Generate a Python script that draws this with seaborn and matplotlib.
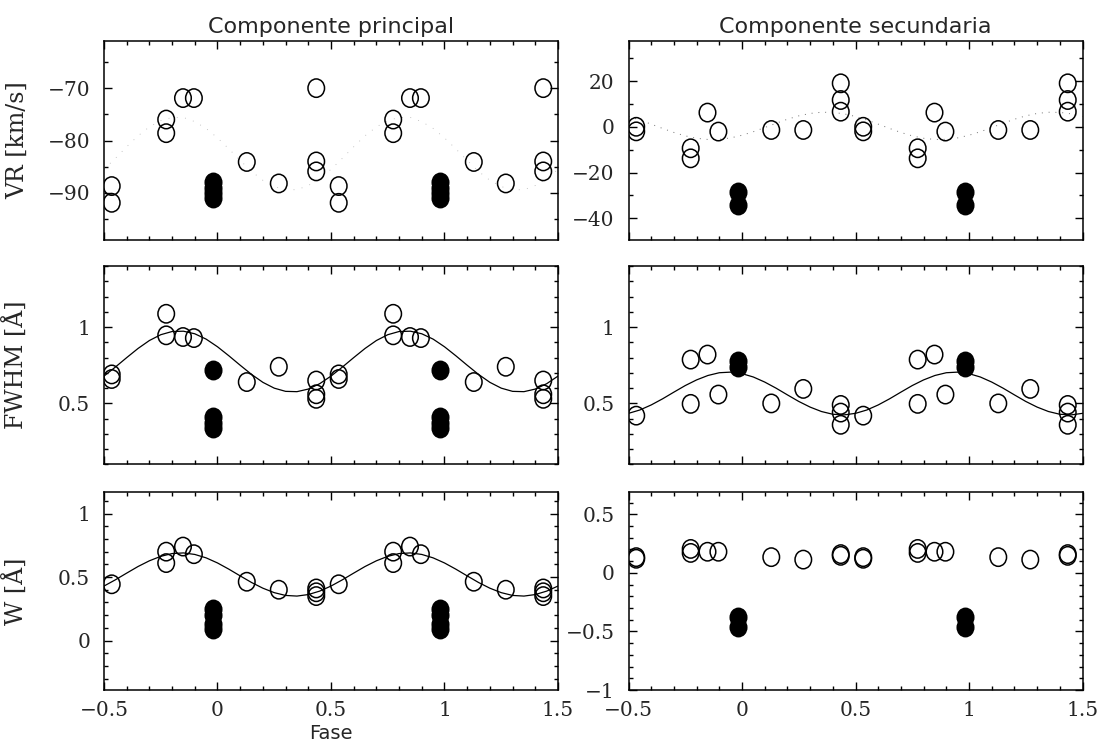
import numpy as np
import matplotlib
matplotlib.use("Agg")
import matplotlib.pyplot as plt
import seaborn as sns
from matplotlib.path import Path
from matplotlib.transforms import Affine2D
from matplotlib.ticker import MultipleLocator, FuncFormatter

# ---------------- data (phases in [0,1); plotted folded over -0.5..1.5) ----------------
# Componente principal
VR1_OPEN_PHASE = [0.129, 0.270, 0.435, 0.435, 0.435, 0.534, 0.534, 0.774, 0.774, 0.848, 0.896]
VR1_OPEN = [-84.1, -88.2, -70.0, -84.0, -85.9, -88.7, -91.9, -76.0, -78.6, -71.9, -71.9]
VR1_FILL_PHASE = [0.980, 0.980, 0.980, 0.980]
VR1_FILL = [-88.0, -89.0, -90.0, -91.0]

FW1_OPEN_PHASE = [0.129, 0.270, 0.435, 0.435, 0.435, 0.534, 0.534, 0.774, 0.774, 0.848, 0.896]
FW1_OPEN = [0.64, 0.74, 0.65, 0.56, 0.53, 0.69, 0.66, 1.087, 0.946, 0.935, 0.928]
FW1_FILL_PHASE = [0.980, 0.980, 0.980, 0.980]
FW1_FILL = [0.717, 0.41, 0.37, 0.34]

W1_OPEN_PHASE = [0.129, 0.270, 0.435, 0.435, 0.435, 0.534, 0.774, 0.774, 0.848, 0.896]
W1_OPEN = [0.463, 0.40, 0.41, 0.38, 0.35, 0.443, 0.70, 0.61, 0.74, 0.68]
W1_FILL_PHASE = [0.980, 0.980, 0.980, 0.980]
W1_FILL = [0.25, 0.20, 0.13, 0.09]

# Componente secundaria
VR2_OPEN_PHASE = [0.129, 0.270, 0.435, 0.435, 0.435, 0.534, 0.534, 0.774, 0.774, 0.848, 0.896]
VR2_OPEN = [-1.4, -1.4, 19.0, 11.7, 6.6, 0.0, -2.0, -9.4, -13.8, 6.2, -2.1]
VR2_FILL_PHASE = [0.984, 0.984]
VR2_FILL = [-28.4, -34.2]

FW2_OPEN_PHASE = [0.129, 0.270, 0.435, 0.435, 0.435, 0.534, 0.774, 0.774, 0.848, 0.896]
FW2_OPEN = [0.50, 0.595, 0.49, 0.44, 0.36, 0.42, 0.787, 0.497, 0.82, 0.558]
FW2_FILL_PHASE = [0.984, 0.984]
FW2_FILL = [0.78, 0.74]

W2_OPEN_PHASE = [0.129, 0.270, 0.435, 0.435, 0.534, 0.534, 0.774, 0.774, 0.848, 0.896]
W2_OPEN = [0.134, 0.113, 0.16, 0.145, 0.134, 0.12, 0.204, 0.17, 0.18, 0.18]
W2_FILL_PHASE = [0.984, 0.984]
W2_FILL = [-0.38, -0.46]

# fitted curves, read over one cycle at phases -0.5, -0.45, ..., 0.5
FIT_PHASE = [-0.50, -0.45, -0.40, -0.35, -0.30, -0.25, -0.20, -0.15, -0.10, -0.05, 0.00,
             0.05, 0.10, 0.15, 0.20, 0.25, 0.30, 0.35, 0.40, 0.45, 0.50]
VR1_FIT = [-85.5, -83.4, -81.2, -79.1, -77.4, -76.2, -75.6, -75.6, -76.4, -77.7, -79.5,
           -81.6, -83.8, -85.9, -87.6, -88.8, -89.4, -89.4, -88.6, -87.3, -85.5]
FW1_FIT = [0.679, 0.738, 0.800, 0.860, 0.912, 0.950, 0.971, 0.973, 0.956, 0.921, 0.871,
           0.812, 0.750, 0.690, 0.638, 0.600, 0.579, 0.577, 0.594, 0.629, 0.679]
W1_FIT = [0.429, 0.478, 0.531, 0.583, 0.628, 0.663, 0.685, 0.690, 0.678, 0.651, 0.611,
          0.562, 0.509, 0.457, 0.412, 0.377, 0.355, 0.350, 0.362, 0.389, 0.429]
VR2_FIT = [4.51, 2.96, 1.15, -0.72, -2.49, -3.97, -5.03, -5.55, -5.49, -4.86, -3.71,
           -2.16, -0.35, 1.52, 3.29, 4.77, 5.83, 6.35, 6.29, 5.66, 4.51]
FW2_FIT = [0.435, 0.457, 0.490, 0.530, 0.574, 0.617, 0.654, 0.683, 0.701, 0.705, 0.695,
           0.673, 0.640, 0.600, 0.556, 0.513, 0.476, 0.447, 0.429, 0.425, 0.435]

TITLES = ["Componente principal", "Componente secundaria"]
YLABELS = ["VR [km/s]", "FWHM [Å]", "W [Å]"]
XLABEL = "Fase"

# ---------------- helpers ----------------
def fold(phases, values):
    ph = np.asarray(phases, float)
    v = np.asarray(values, float)
    xs, ys = [], []
    for off in (-1, 0, 1):
        m = (ph + off >= -0.5) & (ph + off <= 1.5)
        xs.append(ph[m] + off)
        ys.append(v[m])
    return np.concatenate(xs), np.concatenate(ys)


def two_cycles(vals):
    p = np.asarray(FIT_PHASE, float)
    v = np.asarray(vals, float)
    return np.concatenate([p, p[1:] + 1]), np.concatenate([v, v[1:]])


ELLIPSE = Path.unit_circle().transformed(Affine2D().scale(0.9, 1.0))

sns.set_style("ticks")
plt.rcParams.update({
    "font.family": ["DejaVu Serif", "DejaVu Sans"],
    "xtick.direction": "in", "ytick.direction": "in",
    "xtick.top": True, "ytick.right": True,
    "axes.linewidth": 1.1,
})

fig = plt.figure(figsize=(11.01, 7.44), dpi=100)
W, H = 1101.0, 744.0
col_left = [104, 628.5]
col_w = 454
rows = [(41, 240), (266, 464.5), (492, 690)]

panels = {
    (0, 0): dict(open=(VR1_OPEN_PHASE, VR1_OPEN), fill=(VR1_FILL_PHASE, VR1_FILL),
                 fit=VR1_FIT, dotted="faint", ylim=(-99, -61), major=10, minor=5),
    (1, 0): dict(open=(FW1_OPEN_PHASE, FW1_OPEN), fill=(FW1_FILL_PHASE, FW1_FILL),
                 fit=FW1_FIT, dotted=None, ylim=(0.1, 1.4), major=0.5, minor=0.1),
    (2, 0): dict(open=(W1_OPEN_PHASE, W1_OPEN), fill=(W1_FILL_PHASE, W1_FILL),
                 fit=W1_FIT, dotted=None, ylim=(-0.39, 1.17), major=0.5, minor=0.1),
    (0, 1): dict(open=(VR2_OPEN_PHASE, VR2_OPEN), fill=(VR2_FILL_PHASE, VR2_FILL),
                 fit=VR2_FIT, dotted="light", ylim=(-49.5, 37.5), major=20, minor=10),
    (1, 1): dict(open=(FW2_OPEN_PHASE, FW2_OPEN), fill=(FW2_FILL_PHASE, FW2_FILL),
                 fit=FW2_FIT, dotted=None, ylim=(0.1, 1.4), major=0.5, minor=0.1),
    (2, 1): dict(open=(W2_OPEN_PHASE, W2_OPEN), fill=(W2_FILL_PHASE, W2_FILL),
                 fit=None, dotted=None, ylim=(-1.0, 0.69), major=0.5, minor=0.1),
}

fmt = FuncFormatter(lambda v, pos: ("%g" % round(v, 6)).replace("-", "\u2212"))

for (r, c), p in panels.items():
    top, bot = rows[r]
    ax = fig.add_axes([col_left[c] / W, 1 - bot / H, col_w / W, (bot - top) / H])

    if p["fit"] is not None:
        fx, fy = two_cycles(p["fit"])
        if p["dotted"] == "faint":
            sns.lineplot(x=fx, y=fy, ax=ax, color="0.7", linewidth=0.6,
                         linestyle=(0, (1, 9)), estimator=None, sort=False)
        elif p["dotted"] == "light":
            sns.lineplot(x=fx, y=fy, ax=ax, color="0.45", linewidth=0.7,
                         linestyle=(0, (1, 6)), estimator=None, sort=False)
        else:
            sns.lineplot(x=fx, y=fy, ax=ax, color="black", linewidth=0.9,
                         estimator=None, sort=False)

    ox, oy = fold(*p["open"])
    sns.scatterplot(x=ox, y=oy, ax=ax, marker=ELLIPSE, s=175,
                    color="black", edgecolor="black", linewidth=1.1, zorder=3)
    ax.collections[-1].set_facecolor("none")
    ax.collections[-1].set_edgecolor("black")

    fx2, fy2 = fold(*p["fill"])
    sns.scatterplot(x=fx2, y=fy2, ax=ax, marker=ELLIPSE, s=175,
                    color="black", edgecolor="black", linewidth=1.1, zorder=3)

    ax.set_xlim(-0.5, 1.5)
    ax.set_ylim(*p["ylim"])
    ax.xaxis.set_major_locator(MultipleLocator(0.5))
    ax.xaxis.set_minor_locator(MultipleLocator(0.1))
    ax.yaxis.set_major_locator(MultipleLocator(p["major"]))
    ax.yaxis.set_minor_locator(MultipleLocator(p["minor"]))
    ax.yaxis.set_major_formatter(fmt)
    ax.xaxis.set_major_formatter(fmt)
    ax.tick_params(which="both", direction="in", top=True, right=True,
                   color="black", width=1.0)
    ax.tick_params(which="major", length=6)
    ax.tick_params(which="minor", length=3)
    ax.tick_params(axis="y", labelsize=14.5, pad=10)
    ax.tick_params(axis="x", labelsize=14.5, pad=8)
    for s in ax.spines.values():
        s.set_color("black")
        s.set_linewidth(1.1)

    if r < 2:
        ax.tick_params(axis="x", labelbottom=False)
    if r == 0:
        ax.set_title(TITLES[c], fontsize=16, family="DejaVu Sans", pad=6)
    if c == 0:
        ax.set_ylabel(YLABELS[r], fontsize=17, family="DejaVu Serif")
        ax.yaxis.set_label_coords(-0.165, 0.5)
    else:
        ax.set_ylabel("")
    if r == 2 and c == 0:
        ax.set_xlabel(XLABEL, fontsize=14, family="DejaVu Sans")
        ax.xaxis.set_label_coords(0.5, -0.17)
        ax.xaxis.label.set_va("top")
    else:
        ax.set_xlabel("")

fig.savefig("out.png", dpi=100)
